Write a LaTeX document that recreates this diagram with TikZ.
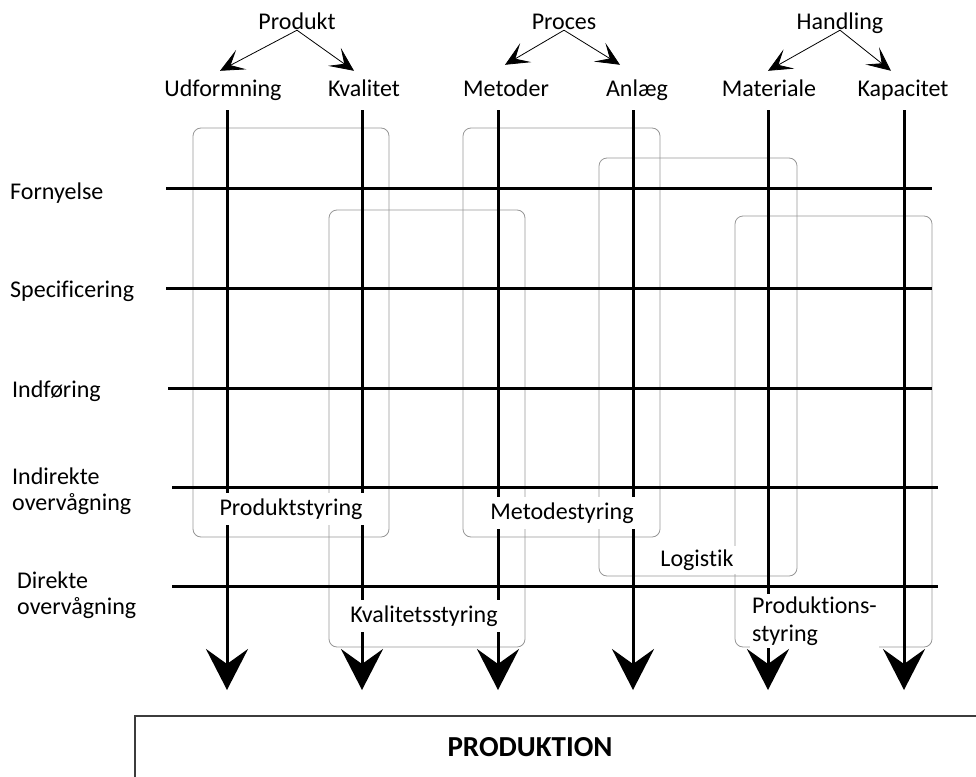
\documentclass[tikz,border=0pt]{standalone}
\usepackage{fontspec}
\setmainfont[Ligatures=NoCommon]{Carlito}
\usetikzlibrary{arrows.meta,calc}

\begin{document}
\begin{tikzpicture}[x=1pt,y=1pt,yscale=-1,xscale=1,
  lbl/.style={inner sep=0pt,font=\fontsize{24}{26}\selectfont},
  cat/.style={lbl,anchor=base,text height=17pt,text depth=0pt},
  col/.style={lbl,anchor=base,text height=17pt,text depth=5pt,inner ysep=8pt},
  row/.style={lbl,align=left},
  tag/.style={lbl,fill=white,inner xsep=4pt,minimum height=32pt},
  area/.style={draw={rgb,255:red,150;green,150;blue,150},line width=0.8pt,rounded corners=8pt},
  grid line/.style={line width=3pt},
  flow/.style={line width=3pt,-{Stealth[length=41pt,width=42pt,inset=15pt]}},
  split/.style={line width=0.8pt,-{Stealth[length=24pt,width=22pt,inset=12pt]}}]
\useasboundingbox (0,0) rectangle (976,776);
\clip (0,0) rectangle (976,776);

%Rounded Rect (areas)
\draw[area] (193,128) rectangle (389,537);
\draw[area] (329,210) rectangle (525,647);
\draw[area] (463,128) rectangle (660,537);
\draw[area] (599,158) rectangle (797,576);
\draw[area] (735,216) rectangle (932,647);

%Straight Lines (rows)
\foreach \n/\y/\xa/\xb in {forn/188/166/932, spec/288/166/932, indf/388/168/932, indir/487/172/938, dir/586/172/938}{
  \coordinate (\n-start) at (\xa,\y);
  \coordinate (\n-end) at (\xb,\y);
  \draw[grid line] (\n-start) -- (\n-end);
}

%Straight Lines (columns)
\foreach \n/\x in {udf/227, kval/362, met/498, anl/633, mat/768, kap/904}{
  \coordinate (\n-top) at (\x,110);
  \coordinate (\n-tip) at (\x,690);
  \draw[flow] (\n-top) -- (\n-tip);
}

% Text Node
\node[cat] (prod) at (297,30) {Produkt};
\node[cat] (proc) at (564,30) {Proces};
\node[cat] (hand) at (840,30) {Handling};
% Text Node
\node[col] (udf) at (223,96) {Udformning};
\node[col] (kval) at (364,96) {Kvalitet};
\node[col] (met) at (506,96) {Metoder};
\node[col] (anl) at (637,96) {Anlæg};
\node[col] (mat) at (769,96) {Materiale};
\node[col] (kap) at (903,96) {Kapacitet};

%Straight Lines (split)
\draw[split] (prod.south) -- ($(udf.north)+(-3,0)$);
\draw[split] (prod.south) -- ($(kval.north)+(-10,0)$);
\draw[split] (proc.south) -- ($(met.north)+(-1,-6)$);
\draw[split] (proc.south) -- ($(anl.north)+(-17,-6)$);
\draw[split] (hand.south) -- ($(mat.north)+(-1,0)$);
\draw[split] (hand.south) -- ($(kap.north)+(-12,0)$);

% Text Node
\node[lbl,anchor=base west] (forn) at (10,199) {Fornyelse};
\node[lbl,anchor=base west] (spec) at (10,297) {Specificering};
\node[lbl,anchor=base west] (indf) at (12,397) {Indføring};
\node[row,anchor=west] (indir) at (12,491) {Indirekte\\overvågning};
\node[row,anchor=west] (dir) at (17,595) {Direkte\\overvågning};

% Text Node
\node[tag] (prodstyr) at (291,509) {Produktstyring};
\node[tag] (kvalstyr) at (424,616) {Kvalitetsstyring};
\node[tag] (metstyr) at (562,513) {Metodestyring};
\node[tag,minimum height=28pt] (logi) at (697,560) {Logistik};
\node[lbl,fill=white,align=left,anchor=west,inner xsep=2pt,inner ysep=3pt,font=\fontsize{24}{28}\selectfont] (prodtnstyr) at (750,621) {Produktions-\\styring};

%Rect (bottom)
\draw[line width=1.2pt,draw={rgb,255:red,60;green,60;blue,60}] (135,716) rectangle (990,800);
\node[lbl,anchor=base,font=\fontsize{29}{32}\selectfont\bfseries] (produktion) at (530,756) {PRODUKTION};

\end{tikzpicture}
\end{document}
